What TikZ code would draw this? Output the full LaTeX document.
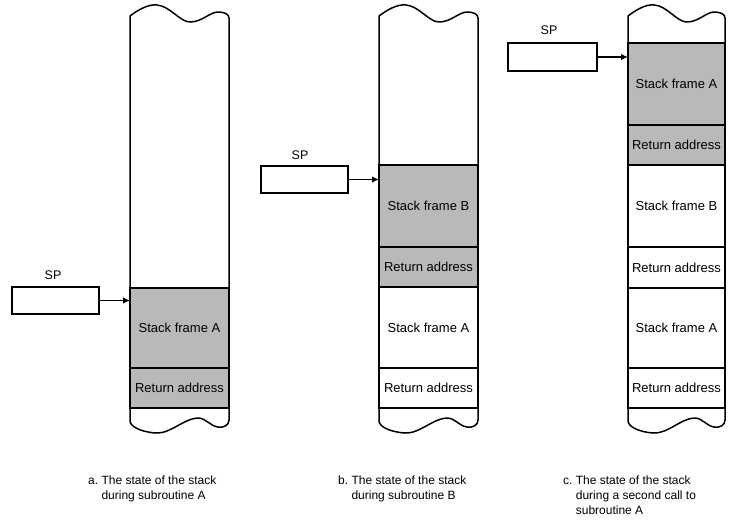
\documentclass[tikz,border=0pt]{standalone}
\usepackage{fontspec}
\setmainfont{Liberation Sans}
\usetikzlibrary{arrows.meta}
\newcommand\stackoutline[2]{%
\begin{scope}[shift={(#1,0)}, xscale=#2/99]
\draw[outline] (0,421) -- (0,16)
  .. controls (8,10) and (18,4) .. (27,5)
  .. controls (40,6) and (50,22) .. (60,22)
  .. controls (72,22) and (80,12) .. (88,12)
  .. controls (94,12) and (99,14) .. (99,18)
  -- (99,420)
  .. controls (99,425) and (94,428) .. (88,427)
  .. controls (80,426) and (76,418) .. (68,418)
  .. controls (55,418) and (40,434) .. (26,433)
  .. controls (10,432) and (0,426) .. (0,421) -- cycle;
\end{scope}}
\begin{document}
\begin{tikzpicture}[x=1pt,y=-1pt,
  seg/.style={draw, line width=1.2pt, inner sep=0pt, outer sep=0pt, minimum width=99pt, font=\fontsize{13}{15}\selectfont},
  shaded/.style={fill=gray!55},
  spbox/.style={draw, line width=1.2pt, minimum width=87pt, minimum height=27pt, inner sep=0pt, outer sep=0pt},
  splabel/.style={font=\fontsize{12.5}{14}\selectfont, inner sep=0pt},
  outline/.style={line width=1.5pt, line join=round},
  ptr/.style={line width=1.2pt, -{Latex[length=7pt,width=6.5pt]}},
  caption/.style={font=\fontsize{12}{15}\selectfont, anchor=north west, inner sep=0pt}]
\useasboundingbox (0,0) rectangle (738,523);
% column a
\node[seg,shaded,minimum height=80pt] (aSA) at (179.5,328) {Stack frame A};
\node[seg,shaded,minimum height=40pt] (aRA) at (179.5,388) {Return address};
\stackoutline{130}{99}
% column b
\node[seg,shaded,minimum height=82pt] (bSB) at (428.5,206) {Stack frame B};
\node[seg,shaded,minimum height=40pt] (bRA1) at (428.5,267) {Return address};
\node[seg,minimum height=81pt] (bSA) at (428.5,327.5) {Stack frame A};
\node[seg,minimum height=40pt] (bRA2) at (428.5,388) {Return address};
\stackoutline{379}{99}
% column c
\node[seg,shaded,minimum width=97pt,minimum height=82pt] (cSA) at (676.5,84) {Stack frame A};
\node[seg,shaded,minimum width=97pt,minimum height=40pt] (cRA1) at (676.5,145) {Return address};
\node[seg,minimum width=97pt,minimum height=82pt] (cSB) at (676.5,206) {Stack frame B};
\node[seg,minimum width=97pt,minimum height=41pt] (cRA2) at (676.5,267.5) {Return address};
\node[seg,minimum width=97pt,minimum height=80pt] (cSA2) at (676.5,328) {Stack frame A};
\node[seg,minimum width=97pt,minimum height=40pt] (cRA3) at (676.5,388) {Return address};
\stackoutline{628}{97}
% SP boxes
\node[spbox] (aSP) at (55.5,300.5) {};
\node[splabel] (aSPl) at (53,275) {SP};
\draw[ptr] (aSP.east) -- (aSP.east -| aSA.west);
\node[spbox] (bSP) at (304.5,179.5) {};
\node[splabel] (bSPl) at (300,155) {SP};
\draw[ptr] (bSP.east) -- (bSP.east -| bSB.west);
\node[spbox,minimum width=89pt,minimum height=28pt] (cSP) at (552.5,57) {};
\node[splabel] (cSPl) at (549,30) {SP};
\draw[ptr] (cSP.east) -- (cSP.east -| cSA.west);
% captions
\node[caption] (capA) at (88,474) {\begin{tabular}{@{}l@{\ }l@{}}a. & The state of the stack\\ & during subroutine A\end{tabular}};
\node[caption] (capB) at (338,474) {\begin{tabular}{@{}l@{\ }l@{}}b. & The state of the stack\\ & during subroutine B\end{tabular}};
\node[caption] (capC) at (563,474) {\begin{tabular}{@{}l@{\ }l@{}}c. & The state of the stack\\ & during a second call to\\ & subroutine A\end{tabular}};
\end{tikzpicture}
\end{document}
